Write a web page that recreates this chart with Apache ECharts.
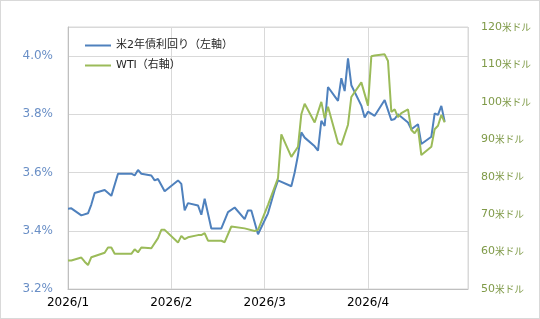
<!DOCTYPE html>
<html><head><meta charset="utf-8">
<script src="https://cdn.jsdelivr.net/npm/echarts@6/dist/echarts.min.js"></script>
<style>
html,body{margin:0;padding:0;background:#fff;}
#c{width:540px;height:319px;box-sizing:border-box;border:1px solid #d9d9d9;}
</style></head>
<body><div id="c"></div>
<script>
const seriesNames = ['米2年債利回り（左軸）', 'WTI（右軸）'];
const yieldDates = ['2026-01-01','2026-01-02','2026-01-05','2026-01-07','2026-01-08','2026-01-09','2026-01-12','2026-01-14','2026-01-16','2026-01-20','2026-01-21','2026-01-22','2026-01-23','2026-01-26','2026-01-27','2026-01-28','2026-01-30','2026-02-03','2026-02-04','2026-02-05','2026-02-06','2026-02-09','2026-02-10','2026-02-11','2026-02-13','2026-02-16','2026-02-18','2026-02-20','2026-02-23','2026-02-24','2026-02-25','2026-02-27','2026-03-02','2026-03-03','2026-03-04','2026-03-05','2026-03-09','2026-03-10','2026-03-11','2026-03-12','2026-03-13','2026-03-16','2026-03-17','2026-03-18','2026-03-19','2026-03-20','2026-03-23','2026-03-24','2026-03-25','2026-03-26','2026-03-27','2026-03-30','2026-03-31','2026-04-01','2026-04-03','2026-04-06','2026-04-08','2026-04-09','2026-04-10','2026-04-13','2026-04-14','2026-04-16','2026-04-17','2026-04-20','2026-04-21','2026-04-22','2026-04-23','2026-04-24'];
const yieldValues = [3.476,3.477,3.453,3.460,3.490,3.530,3.540,3.520,3.596,3.596,3.590,3.609,3.596,3.590,3.573,3.578,3.536,3.573,3.561,3.470,3.495,3.487,3.455,3.510,3.408,3.408,3.464,3.480,3.440,3.470,3.470,3.388,3.460,3.500,3.540,3.573,3.553,3.600,3.660,3.738,3.720,3.690,3.675,3.778,3.760,3.894,3.846,3.924,3.880,3.992,3.900,3.830,3.789,3.809,3.795,3.849,3.780,3.784,3.800,3.772,3.749,3.766,3.698,3.723,3.803,3.798,3.829,3.775];
const wtiDates = ['2026-01-01','2026-01-02','2026-01-05','2026-01-06','2026-01-07','2026-01-08','2026-01-12','2026-01-13','2026-01-14','2026-01-15','2026-01-20','2026-01-21','2026-01-22','2026-01-23','2026-01-26','2026-01-28','2026-01-29','2026-01-30','2026-02-03','2026-02-04','2026-02-05','2026-02-06','2026-02-09','2026-02-10','2026-02-11','2026-02-12','2026-02-16','2026-02-17','2026-02-19','2026-02-23','2026-02-26','2026-02-27','2026-03-02','2026-03-05','2026-03-06','2026-03-09','2026-03-11','2026-03-12','2026-03-13','2026-03-16','2026-03-18','2026-03-19','2026-03-20','2026-03-23','2026-03-24','2026-03-26','2026-03-27','2026-03-30','2026-04-01','2026-04-02','2026-04-03','2026-04-06','2026-04-07','2026-04-08','2026-04-09','2026-04-10','2026-04-11','2026-04-13','2026-04-14','2026-04-15','2026-04-16','2026-04-17','2026-04-20','2026-04-21','2026-04-22','2026-04-23','2026-04-24'];
const wtiValues = [57.6,57.6,58.4,57.3,56.4,58.5,59.7,61.1,61.1,59.4,59.4,60.6,59.8,61.1,60.9,63.6,65.8,65.8,62.4,64.2,63.3,63.8,64.4,64.4,64.9,62.9,62.9,62.5,66.7,66.2,65.5,65.8,72.5,79.6,91.3,85.3,88.0,96.7,99.5,94.5,100.0,95.6,98.7,89.0,88.5,93.9,101.3,105.2,99.0,112.2,112.4,112.7,110.9,97.3,98.0,95.9,97.0,98.0,92.5,91.6,93.0,85.8,88.0,92.7,93.6,96.5,94.5];
const leftTicks = {min: 3.2, max: 4.1, interval: 0.2};
const rightTicks = {min: 50, max: 120, interval: 10};
const xRange = ['2026-01-01', '2026-05-01'];

const FONT = "'DejaVu Sans', 'Noto Sans CJK JP', sans-serif";
const BLUE = '#4F81BD', GREEN = '#9BBB59';
const chart = echarts.init(document.getElementById('c'));
const DAY = 86400000;
chart.setOption({
  animation: false,
  textStyle: {fontFamily: FONT},
  grid: {left: 67, right: 71, top: 26, bottom: 29, show: true, borderColor: '#d9d9d9', borderWidth: 1},
  legend: {
    left: 79, top: 34, orient: 'vertical', itemWidth: 26, itemHeight: 2, itemGap: 9,
    icon: 'rect',
    textStyle: {fontFamily: FONT, fontSize: 11, color: '#262626'},
    data: seriesNames
  },
  xAxis: {
    type: 'time', min: xRange[0], max: xRange[1],
    minInterval: 28 * DAY, maxInterval: 31 * DAY, splitNumber: 4,
    axisLine: {lineStyle: {color: '#bfbfbf'}},
    axisTick: {show: false},
    splitLine: {show: true, lineStyle: {color: '#d9d9d9'}},
    axisLabel: {
      color: '#000', fontSize: 12, fontFamily: FONT, margin: 8, showMaxLabel: false, showMinLabel: true,
      formatter: v => { const d = new Date(v); return d.getFullYear() + '/' + (d.getMonth() + 1); }
    }
  },
  yAxis: [{
    type: 'value', min: leftTicks.min, max: leftTicks.max, interval: leftTicks.interval,
    axisLine: {show: true, lineStyle: {color: '#bfbfbf'}},
    axisTick: {show: false},
    splitLine: {show: true, lineStyle: {color: '#d9d9d9'}},
    axisLabel: {color: '#6A8FC6', fontSize: 12, fontFamily: FONT, margin: 15, showMaxLabel: false,
      formatter: v => (Math.abs(v - 4.1) < 1e-6 ? '' : v.toFixed(1) + '%')}
  }, {
    type: 'value', min: rightTicks.min, max: rightTicks.max, interval: rightTicks.interval,
    position: 'right',
    axisLine: {show: false}, axisTick: {show: false}, splitLine: {show: false},
    axisLabel: {color: '#7F9A48', margin: 13,
      formatter: v => '{n|' + v + '}{u|米ドル}',
      rich: {
        n: {fontSize: 11, fontFamily: FONT, color: '#7F9A48'},
        u: {fontSize: 9.7, fontFamily: "'Noto Sans CJK JP', sans-serif", color: '#7F9A48'}
      }}
  }],
  series: [{
    name: seriesNames[0], type: 'line', yAxisIndex: 0, symbol: 'none',
    lineStyle: {color: BLUE, width: 2}, itemStyle: {color: BLUE},
    data: yieldDates.map((d, i) => [d, yieldValues[i]])
  }, {
    name: seriesNames[1], type: 'line', yAxisIndex: 1, symbol: 'none',
    lineStyle: {color: GREEN, width: 2}, itemStyle: {color: GREEN},
    data: wtiDates.map((d, i) => [d, wtiValues[i]])
  }]
});
</script></body></html>
